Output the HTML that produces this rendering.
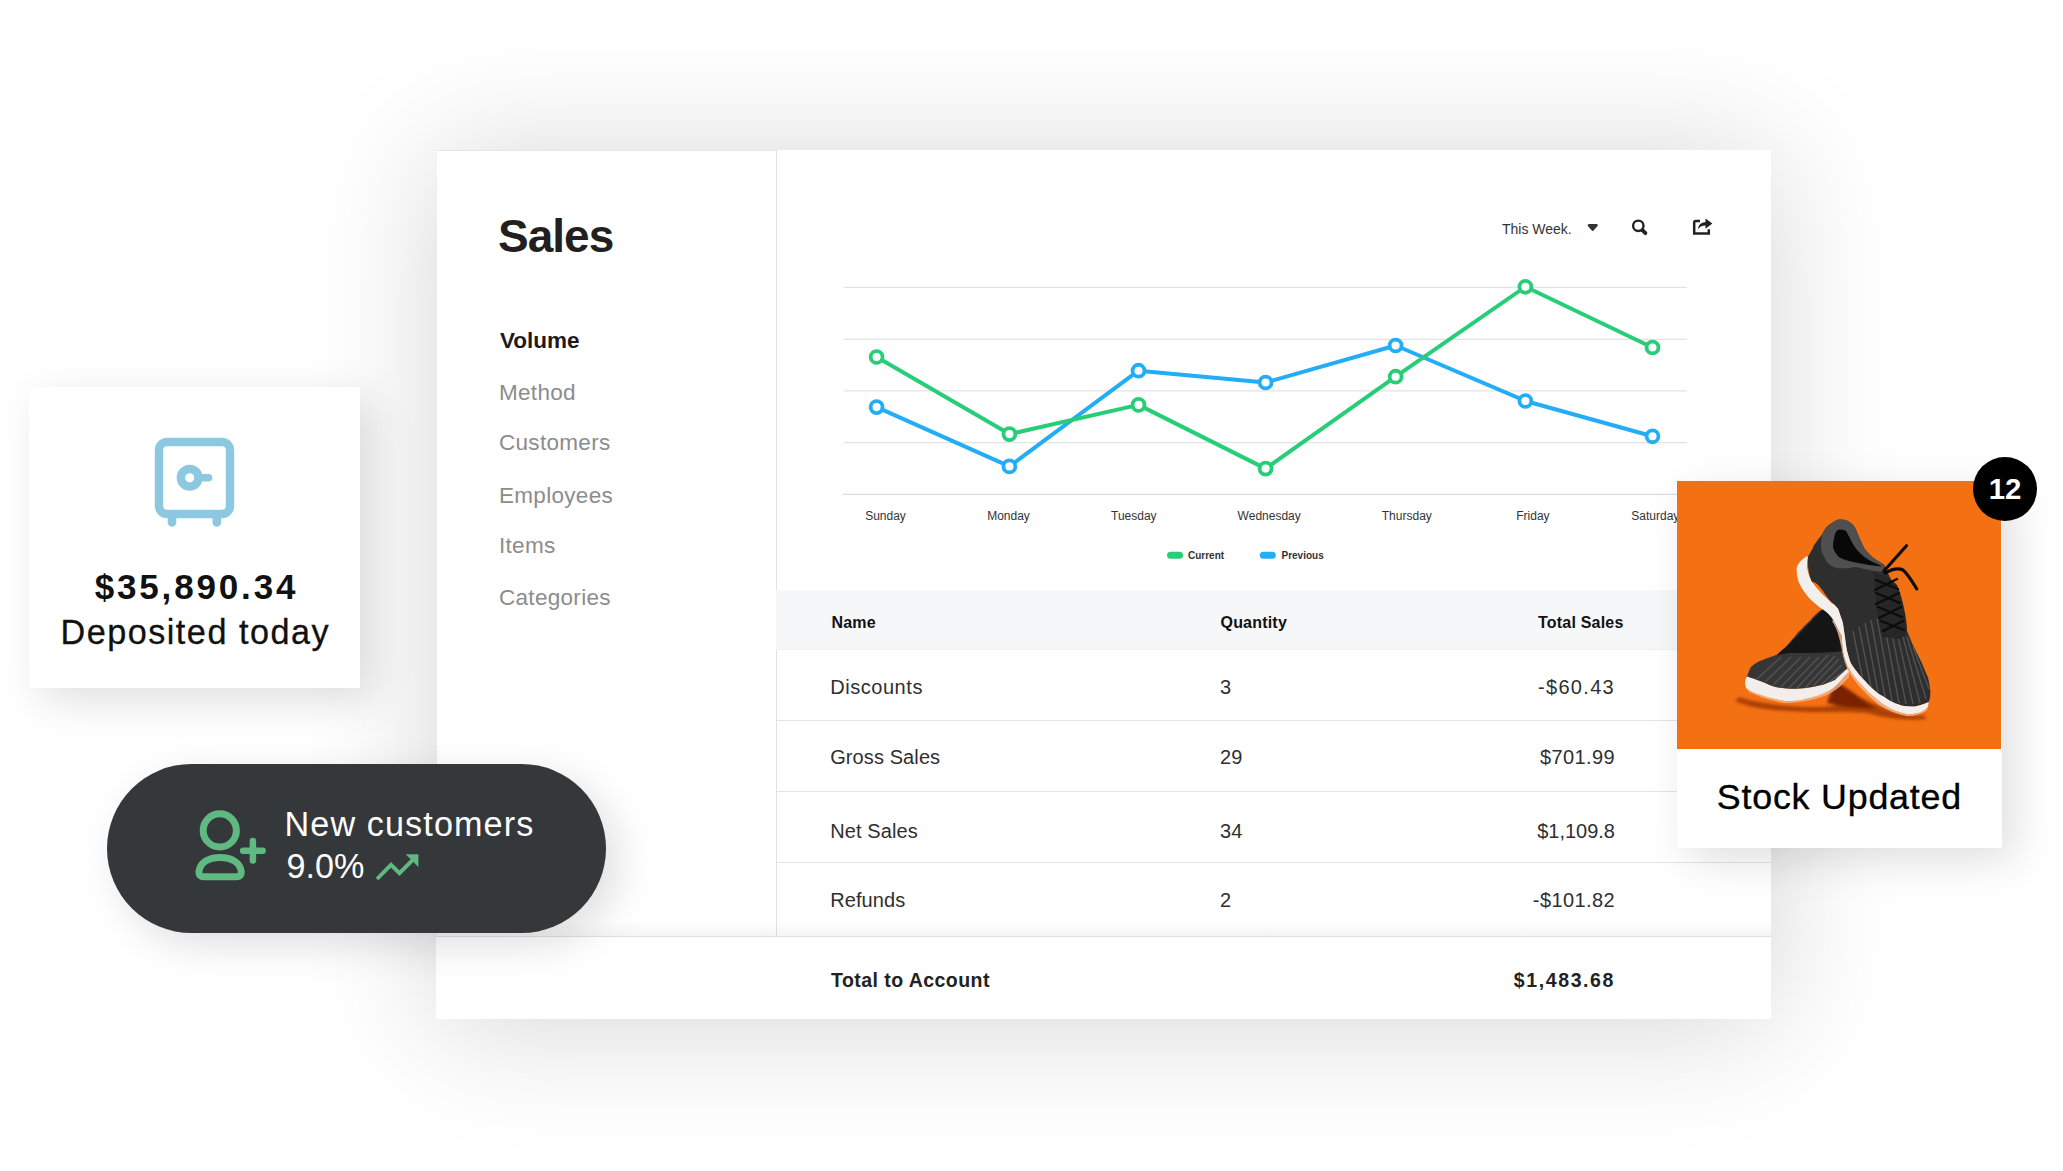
<!DOCTYPE html>
<html><head><meta charset="utf-8">
<style>
*{margin:0;padding:0;box-sizing:border-box}
html,body{width:2063px;height:1171px;overflow:hidden;background:#fff;font-family:"Liberation Sans",Arial,sans-serif;}
.a{position:absolute;white-space:nowrap;line-height:1}
#panel{position:absolute;left:437px;top:150px;width:1334px;height:869px;background:#fff;box-shadow:0 6px 120px rgba(0,0,0,.17)}
#topline{position:absolute;left:437px;top:150px;width:340px;height:1px;background:#e6e6e6}
#divider{position:absolute;left:776px;top:150px;width:1px;height:786px;background:#e2e2e2}
#thead{position:absolute;left:776px;top:590px;width:995px;height:59px;background:#f6f7f9}
.sep{position:absolute;left:777px;width:994px;height:1px;background:#e4e4e4}
#footer{position:absolute;left:436px;top:936px;width:1335px;height:83px;background:#fff;border-top:1px solid #e0e0e0}
.nav{font-size:22.5px;color:#8c8c8c;letter-spacing:.3px;left:499px}
.th{font-size:16px;font-weight:bold;color:#111;letter-spacing:.2px}
.td{font-size:20px;color:#2f2f2f;letter-spacing:.1px}
.tv{font-size:20px;color:#2f2f2f;text-align:right}
#dep{position:absolute;left:29px;top:387px;width:331px;height:301px;background:#fff;box-shadow:12px 12px 40px rgba(0,0,0,.13)}
#pill{position:absolute;left:107px;top:764px;width:499px;height:169px;border-radius:85px;background:#35383a;box-shadow:12px 12px 40px rgba(0,0,0,.13)}
#stock{position:absolute;left:1677px;top:481px;width:325px;height:367px;background:#fff;box-shadow:12px 12px 40px rgba(0,0,0,.13)}
#orange{position:absolute;left:0;top:0;width:324px;height:268px;background:#f37013;overflow:hidden}
#badge{position:absolute;left:1973px;top:457px;width:64px;height:64px;border-radius:50%;background:#000}
</style></head>
<body>
<div id="panel"></div>
<div id="topline"></div>
<div id="divider"></div>

<!-- sidebar -->
<div class="a" style="left:498px;top:212.7px;font-size:46px;font-weight:bold;color:#231f20;letter-spacing:-1px">Sales</div>
<div class="a nav" style="left:500px;top:330.15px;color:#1e1a1b;font-weight:bold;letter-spacing:0">Volume</div>
<div class="a nav" style="top:382.25px">Method</div>
<div class="a nav" style="top:432.4px">Customers</div>
<div class="a nav" style="top:484.85px">Employees</div>
<div class="a nav" style="top:535.3px">Items</div>
<div class="a nav" style="top:586.5px">Categories</div>

<!-- chart controls -->
<div class="a" style="left:1502px;top:222.2px;font-size:14px;color:#333">This Week.</div>
<svg class="a" style="left:1580px;top:212px" width="140" height="30" viewBox="1580 212 140 30">
  <path d="M1588.8 225.3 L1596.6 225.3 L1592.7 229.8 Z" fill="#333" stroke="#333" stroke-width="2.4" stroke-linejoin="round"/>
  <circle cx="1638.3" cy="225.8" r="5.2" fill="none" stroke="#222" stroke-width="2.4"/>
  <path d="M1642.4 230.2 L1645.4 233.2" stroke="#222" stroke-width="3.8" stroke-linecap="round"/>
  <path d="M1700 220.9 H1695.8 Q1694.2 220.9 1694.2 222.5 V233.5 H1708.8 V229.3" fill="none" stroke="#222" stroke-width="2.5"/>
  <path d="M1698 229.2 C1698.4 224.6 1701.4 222.3 1705.5 222.3 V218.4 L1712.4 223.6 L1705.5 228.8 V225.6 C1702.4 225.6 1700 226.7 1698 229.2 Z" fill="#222"/>
</svg>

<!-- chart -->
<svg class="a" style="left:777px;top:260px" width="994" height="320" viewBox="777 260 994 320">
  <g stroke="#e3e3e3" stroke-width="1.2">
    <line x1="844" y1="287.3" x2="1687" y2="287.3"/>
    <line x1="844" y1="339.3" x2="1687" y2="339.3"/>
    <line x1="844" y1="390.8" x2="1687" y2="390.8"/>
    <line x1="844" y1="442.6" x2="1687" y2="442.6"/>
    <line x1="843" y1="494.4" x2="1687" y2="494.4" stroke="#dcdcdc"/>
  </g>
  <polyline fill="none" stroke="#24adf7" stroke-width="4" stroke-linejoin="round" points="876.6,407.1 1009.4,466.4 1138.5,370.7 1265.6,382.5 1395.6,345.5 1525.4,401 1652.5,436.3"/>
  <polyline fill="none" stroke="#28cd78" stroke-width="4" stroke-linejoin="round" points="876.6,357 1009.4,434.1 1138.5,404.9 1265.6,468.6 1395.6,376.7 1525.4,286.8 1652.5,347.5"/>
  <g fill="#fff" stroke="#24adf7" stroke-width="3.8">
    <circle cx="876.6" cy="407.1" r="5.95"/><circle cx="1009.4" cy="466.4" r="5.95"/><circle cx="1138.5" cy="370.7" r="5.95"/><circle cx="1265.6" cy="382.5" r="5.95"/><circle cx="1395.6" cy="345.5" r="5.95"/><circle cx="1525.4" cy="401" r="5.95"/><circle cx="1652.5" cy="436.3" r="5.95"/>
  </g>
  <g fill="#fff" stroke="#28cd78" stroke-width="3.8">
    <circle cx="876.6" cy="357" r="5.95"/><circle cx="1009.4" cy="434.1" r="5.95"/><circle cx="1138.5" cy="404.9" r="5.95"/><circle cx="1265.6" cy="468.6" r="5.95"/><circle cx="1395.6" cy="376.7" r="5.95"/><circle cx="1525.4" cy="286.8" r="5.95"/><circle cx="1652.5" cy="347.5" r="5.95"/>
  </g>
  <g font-family="Liberation Sans, Arial, sans-serif" font-size="12" fill="#333" text-anchor="middle" transform="translate(0,-0.5)">
    <text x="885.5" y="520.5">Sunday</text>
    <text x="1008.5" y="520.5">Monday</text>
    <text x="1133.8" y="520.5">Tuesday</text>
    <text x="1269.2" y="520.5">Wednesday</text>
    <text x="1406.8" y="520.5">Thursday</text>
    <text x="1532.9" y="520.5">Friday</text>
    <text x="1655.3" y="520.5">Saturday</text>
  </g>
  <rect x="1167" y="551.7" width="16" height="7" rx="3.5" fill="#28cd78"/>
  <rect x="1259.8" y="551.7" width="16" height="7" rx="3.5" fill="#24adf7"/>
  <g font-family="Liberation Sans, Arial, sans-serif" font-size="10" font-weight="bold" fill="#333">
    <text x="1188" y="558.9">Current</text>
    <text x="1281.5" y="558.9">Previous</text>
  </g>
</svg>

<!-- table -->
<div id="thead"></div>
<div class="sep" style="left:776px;width:995px;top:649px;background:#eff0ef"></div>
<div class="a th" style="left:831.5px;top:614.5px">Name</div>
<div class="a th" style="left:1220.5px;top:614.5px">Quantity</div>
<div class="a th" style="left:1538px;top:614.5px">Total Sales</div>

<div class="sep" style="top:719.5px"></div>
<div class="sep" style="top:791px"></div>
<div class="sep" style="top:862px"></div>

<div class="a td" style="left:830.2px;top:676.8px;letter-spacing:.55px">Discounts</div>
<div class="a td" style="left:830.2px;top:746.7px">Gross Sales</div>
<div class="a td" style="left:830.2px;top:820.6px">Net Sales</div>
<div class="a td" style="left:830.2px;top:890.2px">Refunds</div>

<div class="a td" style="left:1220px;top:676.8px">3</div>
<div class="a td" style="left:1220px;top:746.7px">29</div>
<div class="a td" style="left:1220px;top:820.6px">34</div>
<div class="a td" style="left:1220px;top:890.2px">2</div>

<div class="a tv" style="right:448px;top:676.8px;letter-spacing:1.3px">-$60.43</div>
<div class="a tv" style="right:448px;top:746.7px;letter-spacing:.4px">$701.99</div>
<div class="a tv" style="right:448px;top:820.6px;letter-spacing:0">$1,109.8</div>
<div class="a tv" style="right:448px;top:890.2px;letter-spacing:.4px">-$101.82</div>

<div style="position:absolute;left:437px;top:921px;width:1334px;height:15px;background:linear-gradient(rgba(0,0,0,0),rgba(0,0,0,.045))"></div>
<div id="footer"></div>
<div class="a" style="left:831px;top:970.8px;font-size:19.5px;font-weight:bold;color:#222;letter-spacing:.45px">Total to Account</div>
<div class="a" style="right:448px;top:970.8px;font-size:19.5px;font-weight:bold;color:#222;letter-spacing:1.6px">$1,483.68</div>

<!-- deposited card -->
<div id="dep"></div>
<svg class="a" style="left:150px;top:433px" width="90" height="100" viewBox="150 433 90 100">
  <rect x="159" y="442" width="71" height="72" rx="8" fill="none" stroke="#8cc9e1" stroke-width="8.4"/>
  <path d="M172 518 V522.5 M216.8 518 V522.5" stroke="#8cc9e1" stroke-width="8.6" stroke-linecap="round"/>
  <circle cx="189.7" cy="477.8" r="8.8" fill="none" stroke="#8cc9e1" stroke-width="8.4"/>
  <path d="M198 477.8 H208.5" stroke="#8cc9e1" stroke-width="7.6" stroke-linecap="round"/>
</svg>
<div class="a" style="left:2px;width:389px;text-align:center;top:568.6px;font-size:35px;font-weight:bold;color:#111;letter-spacing:2.85px">$35,890.34</div>
<div class="a" style="left:.75px;width:389px;text-align:center;top:614.85px;font-size:34.2px;color:#111;letter-spacing:1.5px;-webkit-text-stroke:.3px #111">Deposited today</div>

<!-- pill -->
<div id="pill"></div>
<svg class="a" style="left:185px;top:800px" width="90" height="90" viewBox="185 800 90 90">
  <circle cx="219.8" cy="830.4" r="16.6" fill="none" stroke="#5fb980" stroke-width="7"/>
  <path d="M204 876.8 Q198.6 876.8 198.9 871.8 C200 862.5 208.5 857.5 220 857.5 C231.5 857.5 240.2 862.5 241.3 871.8 Q241.6 876.8 236.5 876.8 Z" fill="none" stroke="#5fb980" stroke-width="7" stroke-linejoin="round"/>
  <path d="M252.9 841 V860.4 M243.2 850.7 H262.6" stroke="#5fb980" stroke-width="6.5" stroke-linecap="round"/>
</svg>
<div class="a" style="left:284.5px;top:806.55px;font-size:34.2px;color:#fff;letter-spacing:1.1px">New customers</div>
<div class="a" style="left:286.5px;top:849.45px;font-size:34.2px;color:#fff;letter-spacing:0">9.0%</div>
<svg class="a" style="left:370px;top:848px" width="56" height="38" viewBox="370 848 56 38">
  <path d="M377 879 L391 864.8 L399.5 873.2 L413.5 859.2" fill="none" stroke="#5fb980" stroke-width="3.9"/>
  <path d="M405.6 854.2 H418.4 V867 Z" fill="#5fb980"/>
</svg>

<!-- stock card -->
<div id="stock">
  <div id="orange">
<svg width="324" height="268" viewBox="0 0 324 268" style="position:absolute;left:0;top:0">
  <!-- shadows -->
  <defs><filter id="bl" x="-20%" y="-50%" width="140%" height="200%"><feGaussianBlur stdDeviation="1.6"/></filter></defs>
  <g filter="url(#bl)">
  <path d="M62 216 C80 222 110 226 140 226 C160 226 170 222 178 214 L200 224 C215 232 232 236 246 234 L250 238 C230 240 210 238 190 232 C170 230 140 232 110 230 C90 229 70 226 58 220 Z" fill="#9a3608" opacity=".8"/>
  <path d="M158 200 C168 206 178 212 190 222 L200 228 L170 226 L150 222 Z" fill="#7a2405"/>
  </g>
  <!-- left shoe sole -->
  <path d="M70.2 195.6 C68 198 67.5 203 69.1 206.7 C72 210 76 211 78 212.2 C88 215.5 98 218.5 107.9 220 C115 220.5 120 219.5 124.6 218.9 C132 217.5 138 216 142.4 214.5 C148 212 152 210 155.7 207.8 C159 205 162 202 164.5 198.9 C167 196 170 193 172.3 191.1 L170.1 187.8 C167 190 162 195 157.9 198.9 C152 201 150 202 146.8 203.4 C140 205 135 206 130.1 206.7 C124 207.5 118 208 113.5 207.8 C108 207.5 102 207 96.8 205.6 C90 203 85 200 80.2 198.9 C76 197.5 73 196.8 70.2 195.6 Z" fill="#f1eeec"/>
  <path d="M69.1 206.7 C72 210 76 211 78 212.2 C88 215.5 98 218.5 107.9 220 C115 220.5 120 219.5 124.6 218.9 C135 217 145 213 155.7 207.8 C160 204 165 199 172.3 191.1 L172 196 C165 204 160 209 150 214 C135 220 120 222 107.9 222 C95 220 82 216 72 211 Z" fill="#f3b58c" opacity=".8"/>
  <!-- left shoe upper -->
  <path d="M70.2 195.6 C72 190 73 187 74.6 185.6 C78 182 82 180 85.7 178.9 C92 176.5 96 175 100.2 173.4 C104 170 106 168 109.1 165.6 C112 162 114 159.5 116.8 156.7 C120 152.5 122 150 124.6 147.9 C128 144 131 141.5 133.5 139 C137 135 140 132 142.4 130.1 L146.8 127.9 L165 150 L170.1 187.8 C167 190 162 195 157.9 198.9 C152 201 150 202 146.8 203.4 C140 205 135 206 130.1 206.7 C124 207.5 118 208 113.5 207.8 C108 207.5 102 207 96.8 205.6 C90 203 85 200 80.2 198.9 C76 197.5 73 196.8 70.2 195.6 Z" fill="#363637"/>
  <path d="M100 174 C110 166 125 150 146 128 L160 140 L166 170 C150 172 130 172 112 172 Z" fill="#151515"/>
  <g stroke="#585858" stroke-width="1.4" opacity=".85">
    <path d="M80 198 L104 176 M88 201 L114 176 M96 204 L124 176 M104 206 L133 176 M112 207 L142 176 M120 207 L151 174 M128 207 L158 175 M136 205 L162 178 M144 204 L165 184 M152 201 L167 190"/>
  </g>
  <!-- right shoe upper -->
  <path d="M145 53.4 C148 48 150 45 153.4 43.1 C157 40 160 38.5 162.8 38.4 C166 38.5 169 39 171.2 40.3 C175 43 177 45 178.7 47.8 C180 51 181 54 182.5 57.2 C185 62 186 65 188.1 68.4 C191 72 194 75 197.5 77.8 C201 80 204 82 206.9 83.5 L208.8 87.2 C212 95 214 98 216.3 102.3 C218 106 220 110 221 113.5 C222 120 223 124 223.8 127.6 C224.5 135 225 137 226.7 141.2 C230 150 233 157 235.6 163.4 C239 170 242 176 244.5 181.2 C247 187 249 192 251.1 196.7 C252 201 253 206 253.3 210 C253.5 214 253 218 251.7 221.1 C247 223 242 225 237.8 225.5 C232 225.5 228 225 224.5 224.4 C220 223 216 221.5 213.4 220 C209 217 205 215 202.3 213.3 C198 210 194 206 191.2 203.4 C187 199 183 195 180.1 191.1 C177 187 175 184 173.4 181.2 C172 177 171 173 170.1 170 C169 165 168.5 160 167.9 155.6 C167 150 166.5 145 165.7 141.2 C164 136 162.5 132 161.2 127.9 C158 124 155 121 152.3 119 C146 110 140 100 134.6 100.4 C132 95 130.5 85 130.8 76 C134 70 137 66 136.5 64.7 C140 60 143 56 145 53.4 Z" fill="#2e2e2f"/>
  <!-- collar rim -->
  <path d="M145 53.4 C149 46 155 40 162.8 38.4 C170 38 176 42 178.7 47.8 C181.5 54 184 62 188.1 68.4 C193 74 200 80 207 84 L207.5 90.5 C200 91 190 88.5 178.7 86 C168 88 160 87.5 155.3 85.4 C151 83 149 80.5 148 77.8 C145.5 73 144 70 144 66.6 C144 62 144.3 57 145 53.4 Z" fill="#4f4f50"/>
  <path d="M157.1 57.2 C158 52 159.5 49 161.8 48.7 C165 48 168 49 169.4 50.6 C172 55 174 60 176.9 64.7 C181 71 186 75 190 77.8 C195 81 200 83 205 85.4 C196 85 188 83.5 178.7 81.6 C172 80 166 78.5 161.8 76 C158 72 156.5 69 156.2 66.6 C156 63 156.3 60 157.1 57.2 Z" fill="#080808"/>
  <!-- right shoe mesh -->
  <g stroke="#585858" stroke-width="1.4" opacity=".85">
    <path d="M176 150 L186 200 M182 146 L194 206 M188 142 L201 211 M194 139 L208 216 M200 137 L215 220 M206 136 L222 222 M212 138 L229 223 M218 142 L236 223 M224 148 L243 222 M230 156 L249 218 M236 166 L252 208"/>
  </g>
  <!-- laces -->
  <path d="M197 92 C205 93 213 97 220 104 C226 118 229 135 230 148 C228 154 226 157 222 158 L206 156 C203 146 200 134 199 122 Z" fill="#262627"/>
  <g stroke="#0c0c0c" stroke-width="3.2" fill="none" stroke-linecap="round">
    <path d="M206.9 90 L229.5 64.7"/>
    <path d="M208 92 C215 88 222 87 226 89 C230 92 233 97 239.8 107.9"/>
    <path d="M199 99 L221 108 M220 98 L198 109 M199 112 L223 122 M222 112 L199 123 M201 126 L225 136 M224 126 L202 137 M204 140 L227 149 M226 140 L206 150" stroke-width="2.4"/>
  </g>
  <!-- right shoe sole -->
  <path d="M129.9 75 C126 78 123.5 80 122.4 81.6 C120 85 119.5 87 119.6 89.1 C119.8 94 120.5 97 121.5 100.4 C124 106 126 109 128 111.7 C131 116 134 119 137.4 122 C141 125 145 128 148.7 130.4 C152 133 154.5 136 156.2 139 C159 144 161 149 164.5 154.5 C165 160 165.3 165 165.7 169 C166.5 174 167.5 178 169 181.2 C170.5 185 172 188 173.4 190 C175.5 193 177.5 196 180.1 198.9 C184 203 187.5 207 191.2 211.1 C196 215 200 219 204.5 222.2 C209 225 214 228 218.9 230 C223 231.5 227 232.8 231.1 233.3 C236 233.5 240 232.5 244.5 231.1 C247 229.5 249.5 227.5 251.1 225.5 L251.7 221.1 C247 223 242 225 237.8 225.5 C232 225.5 228 225 224.5 224.4 C220 223 216 221.5 213.4 220 C209 217 205 215 202.3 213.3 C198 210 194 206 191.2 203.4 C187 199 183 195 180.1 191.1 C177 187 175 184 173.4 181.2 C172 177 171 173 170.1 170 C169 165 168.5 160 167.9 155.6 C167 150 166.5 145 165.7 141.2 C164 136 162.5 132 161.2 127.9 C158 124 156 122 155.3 122.9 C151 118 147 115 144 111.7 C140 107 137 104 134.6 100.4 C132 95 130.5 90 129.9 85.4 C130 82 130.3 79 130.8 76 Z" fill="#f2efed"/>
  <path d="M156.2 139 C159 144 161 149 164.5 154.5 C165 160 165.3 165 165.7 169 C166.5 174 167.5 178 169 181.2 C172 188 176 194 180.1 198.9 C187 207 195 215 204.5 222.2 C212 227 220 231 231.1 233.3 C238 233.5 245 232 251.1 225.5 L250 229 C245 233 238 235 230 235 C220 233 210 229 202 224 C192 216 184 208 178 200 C172 192 168 184 166 175 C164 165 162 150 155 140 Z" fill="#f4b790" opacity=".85"/>
</svg>

  </div>
</div>
<div class="a" style="left:1677.4px;width:324px;text-align:center;top:780px;font-size:35.8px;color:#000;letter-spacing:.8px;-webkit-text-stroke:.35px #000">Stock Updated</div>
<div id="badge"></div>
<div class="a" style="left:1973px;width:64px;text-align:center;top:474.3px;font-size:29.4px;font-weight:bold;color:#fff">12</div>

</body></html>
